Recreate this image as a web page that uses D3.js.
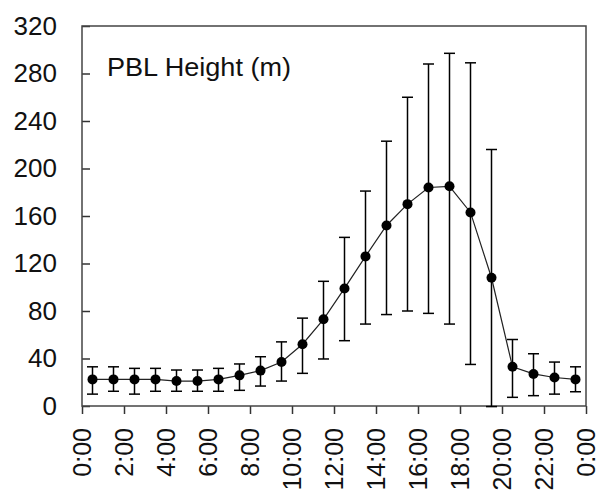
<!DOCTYPE html>
<html>
<head>
<meta charset="utf-8">
<script src="https://cdn.jsdelivr.net/npm/d3@7"></script>
<style>
  body { margin: 0; background: #fff; }
  text { font-family: "Liberation Sans", Arial, sans-serif; fill: #111; }
</style>
</head>
<body>
<script>
// hour of day (mid-hour) for each point
let hours = d3.range(24).map(function(i) { return i + 0.5; });
let meanHeight = [22.4, 22.4, 22.4, 22.4, 21, 21, 22.4, 25.8, 29.8, 37, 52, 73,
                  99, 126, 152, 170, 184, 185, 163, 108, 33, 27, 24, 22.4];
let upperHeight = [33, 33, 31.7, 31.7, 30.3, 30.3, 31.7, 35.4, 41.5, 54, 74, 105,
                   142, 181, 223, 260, 288, 297, 289, 216, 56, 44, 37, 33];
let lowerHeight = [10, 12.4, 10, 12.4, 12.4, 12.4, 12.4, 13.2, 16.8, 21, 27.5, 39.6,
                   55, 69, 77, 80, 78, 69, 35, -0.5, 7.3, 8.7, 10, 12];
let xTickHours = [0, 2, 4, 6, 8, 10, 12, 14, 16, 18, 20, 22, 24];
let xTickLabels = ["0:00", "2:00", "4:00", "6:00", "8:00", "10:00", "12:00",
                   "14:00", "16:00", "18:00", "20:00", "22:00", "0:00"];
let yTicks = [0, 40, 80, 120, 160, 200, 240, 280, 320];

let data = hours.map(function(h, i) {
    return {hour: h, mean: meanHeight[i], hi: upperHeight[i], lo: lowerHeight[i]};
});

let outerWidth = 596;
let outerHeight = 494;
let margin = {top: 26, left: 82, right: 10, bottom: 88};
let width = outerWidth - margin.left - margin.right;
let height = outerHeight - margin.top - margin.bottom;

let svg = d3.select("body")
    .append("svg")
    .attr("width", outerWidth)
    .attr("height", outerHeight);

svg.append("rect")
    .attr("width", outerWidth)
    .attr("height", outerHeight)
    .attr("fill", "#fff");

let g = svg.append("g")
    .attr("transform", "translate(" + margin.left + "," + margin.top + ")");

let xScale = d3.scaleLinear().domain([0, 24]).range([0, width]);
let yScale = d3.scaleLinear().domain([0, 320]).range([height, 0]);

// y axis: ticks pointing inward
let yAxis = g.append("g")
    .call(d3.axisLeft(yScale).tickValues(yTicks).tickSize(-8).tickPadding(25));
yAxis.select(".domain").remove();
yAxis.selectAll("line").attr("stroke", "#333").attr("stroke-width", 1.5);
yAxis.selectAll("text")
    .style("font-size", "26px")
    .style("font-family", "'Liberation Sans', Arial, sans-serif")
    .attr("fill", "#111");

// x axis: rotated labels
let xAxis = g.append("g")
    .attr("transform", "translate(0," + height + ")")
    .call(d3.axisBottom(xScale).tickValues(xTickHours).tickSize(8)
        .tickFormat(function(d, i) { return xTickLabels[i]; }));
xAxis.select(".domain").remove();
xAxis.selectAll("line").attr("stroke", "#333").attr("stroke-width", 1.5);
xAxis.selectAll("text")
    .attr("transform", "rotate(-90)")
    .attr("x", -22)
    .attr("y", 0)
    .attr("dy", "0.35em")
    .style("text-anchor", "end")
    .style("font-size", "25px")
    .style("font-family", "'Liberation Sans', Arial, sans-serif")
    .attr("fill", "#111");

// frame
g.append("rect")
    .attr("width", width)
    .attr("height", height)
    .attr("fill", "none")
    .attr("stroke", "#444")
    .attr("stroke-width", 1.5);

// title inside plot
g.append("text")
    .attr("x", 107 - margin.left)
    .attr("y", 76 - margin.top)
    .attr("textLength", 184)
    .attr("lengthAdjust", "spacingAndGlyphs")
    .style("font-size", "25px")
    .text("PBL Height (m)");

// error bars
let capHalf = 5.5;
let errGroup = g.append("g").attr("class", "errors")
    .attr("stroke", "#000")
    .attr("stroke-width", 1.5);

errGroup.selectAll(".stem")
    .data(data)
    .enter()
    .append("line")
    .attr("x1", function(d) { return xScale(d.hour); })
    .attr("x2", function(d) { return xScale(d.hour); })
    .attr("y1", function(d) { return yScale(d.hi); })
    .attr("y2", function(d) { return yScale(d.lo); });

errGroup.selectAll(".capTop")
    .data(data)
    .enter()
    .append("line")
    .attr("x1", function(d) { return xScale(d.hour) - capHalf; })
    .attr("x2", function(d) { return xScale(d.hour) + capHalf; })
    .attr("y1", function(d) { return yScale(d.hi); })
    .attr("y2", function(d) { return yScale(d.hi); });

errGroup.selectAll(".capBottom")
    .data(data)
    .enter()
    .append("line")
    .attr("x1", function(d) { return xScale(d.hour) - capHalf; })
    .attr("x2", function(d) { return xScale(d.hour) + capHalf; })
    .attr("y1", function(d) { return yScale(d.lo); })
    .attr("y2", function(d) { return yScale(d.lo); });

// mean line
let lineGenerator = d3.line()
    .x(function(d) { return xScale(d.hour); })
    .y(function(d) { return yScale(d.mean); });

g.append("path")
    .attr("d", lineGenerator(data))
    .attr("fill", "none")
    .attr("stroke", "#222")
    .attr("stroke-width", 1.2);

// markers
g.selectAll(".pt")
    .data(data)
    .enter()
    .append("circle")
    .attr("class", "pt")
    .attr("cx", function(d) { return xScale(d.hour); })
    .attr("cy", function(d) { return yScale(d.mean); })
    .attr("r", 5)
    .attr("fill", "#000");
</script>
</body>
</html>
